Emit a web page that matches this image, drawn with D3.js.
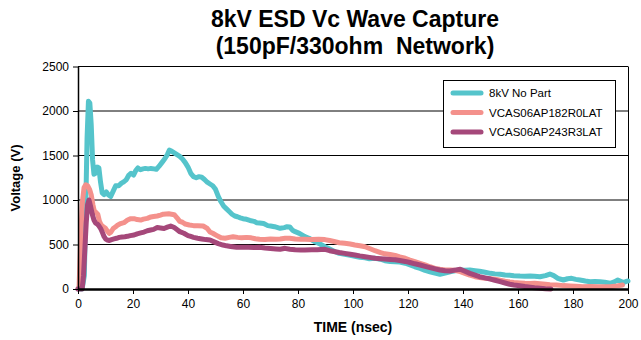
<!DOCTYPE html>
<html><head><meta charset="utf-8">
<script src="https://cdn.jsdelivr.net/npm/d3@7"></script>
<style>body{margin:0;background:#fff}svg{display:block}text{font-family:"Liberation Sans",Arial,sans-serif}</style>
</head><body><svg id="c" width="641" height="340"></svg>
<script>
const titleLines = ["8kV ESD Vc Wave Capture", "(150pF/330ohm  Network)"];
const xLabel = "TIME (nsec)";
const yLabel = "Voltage (V)";
const xTicks = [0,20,40,60,80,100,120,140,160,180,200];
const yTicks = [0,500,1000,1500,2000,2500];
const seriesNames = ["8kV No Part","VCAS06AP182R0LAT","VCAS06AP243R3LAT"];
const seriesColors = ["#55C4CB","#F4918C","#A5487A"];

const noPartT = [0,1.5,2.3,2.8,3.3,3.8,4.3,4.8,5.3,5.8,6.3,7,7.6,8.2,8.8,9.5,10.3,11,11.9,12.8,13.7,14.8,15.8,16.7,17.6,18.5,19.3,20.2,21,21.8,22.7,23.6,24.5,25.5,26.5,27.6,28.5,29.5,30.5,31.5,32.5,33.2,34,35,36,37,38,39,40,41,42,43,44,45,46,47,48,49,50,51,52,53,54,55,56,57,58,59,60,61.3,62.5,64,65,66,67.5,69,70,71.5,73.5,75,76,77,78,79,80.5,82.5,84,86.2,88,89.8,91.5,93.5,95,97,99,100.7,102.5,104.4,106,108,110,111.6,113.5,115.3,117,119,121,122.5,124.4,126.2,128,129.8,131.6,133.5,135.3,137,139,140.7,142.5,144.4,146,148,150,151.6,153.5,155.3,157,158.5,160.7,162.5,164.4,166,168,170,171.6,173,174.5,176.5,178,179.5,181,182.5,184.5,186.2,188,189.8,191.5,193.5,195,196.3,197.5,198.4,199.3,200];
const noPartV = [0,0,150,900,1700,2110,2090,1850,1450,1290,1300,1370,1360,1200,1080,1060,1090,1060,1040,1100,1160,1160,1190,1205,1230,1280,1300,1280,1330,1360,1340,1350,1355,1350,1355,1350,1345,1380,1420,1460,1510,1560,1550,1530,1510,1490,1460,1420,1370,1300,1262,1250,1262,1255,1230,1200,1180,1160,1120,1040,980,930,900,870,840,820,812,800,790,783,770,760,745,741,735,712,708,700,682,690,700,697,660,644,625,588,570,531,505,475,450,419,400,390,378,367,356,350,340,345,335,318,310,307,303,290,268,250,232,210,194,178,166,180,194,205,213,212,213,206,200,188,176,170,165,158,155,150,145,143,145,143,138,150,168,150,120,101,115,120,108,101,90,82,85,82,75,64,80,101,85,72,85,90];

const r0T = [0,0.4,0.9,1.5,2.2,2.8,3.5,4.2,4.8,5.4,5.9,6.5,7.2,7.8,8.4,9.2,10,10.7,11.3,12,12.8,13.7,14.5,15.5,16.7,18,19.2,20.4,21.5,22.8,23.8,25.2,26.5,27.5,28.8,30,31,32,33,34,35,36,37,38,39,40.5,42,43.5,45.5,47,48,49,50.5,52,53.5,55,56.4,58,59.5,61.3,63,64.5,66,68,70,72,73.5,75.3,77,79,81,82.5,85,87.5,89.8,91.5,93.5,95,97,99,100.7,102.5,104.4,106,108,110,111.6,113.5,115.3,117,119,120.7,122.5,124.4,126.2,128,129.8,131.6,133.5,135.3,137,139,140.7,142.5,144.4,146,148,150,151.6,153.5,155.3,157,158.5,160.7,162.5,164.4,166,168,170,171.6,174,176.5,179,181,183.5,186.2,189,191,193.5,196,198,200];
const r0V = [0,30,500,950,1140,1170,1160,1120,1060,950,880,860,840,760,720,700,682,650,626,640,680,700,720,735,745,775,790,790,780,775,785,794,810,815,820,830,840,843,845,840,835,800,760,750,730,719,712,710,708,680,640,626,600,575,570,580,588,580,575,580,575,565,558,555,562,560,562,570,570,562,558,558,555,560,555,545,531,520,513,505,494,485,475,455,430,410,395,388,378,360,345,325,307,288,270,250,232,222,213,213,210,195,176,155,138,128,120,115,110,98,88,80,74,68,64,62,64,58,53,48,45,38,34,30,26,28,26,25,26,35,45];

const r3T = [0,1.5,2,2.5,3,3.5,4,4.6,5.2,5.8,6.4,7,7.6,8.2,8.8,9.5,10.1,10.7,11.4,12.2,13.1,14,15,16,17,18,19,20.4,21.5,22.8,24,25.2,26.4,27.5,28.8,30,31.3,32.5,33.7,35,36.2,37,38.5,40,41,42,43.5,45,46.5,48,49.5,51,52.7,54,55.5,57.7,60,62,64,66,68,70,72,73.5,75.3,77,79,81,82.5,85,87,89.8,91.5,93.5,95,97,99,100.7,102.5,104.4,106,108,110,111.6,113.5,115.3,117,119,120.7,122.5,124.4,126.2,128,129.8,131.6,133.5,135.3,137,139,140.7,142.5,144.4,146,148,150,151.6,153.5,155.3,157,158.5,160.7,162.5,164.4,166,168,170,172];
const r3V = [0,0,150,450,750,950,1000,925,840,775,740,730,710,682,640,588,560,550,545,555,563,570,580,585,588,592,600,607,620,630,640,655,663,670,690,685,680,695,708,690,663,644,626,600,590,580,570,562,555,550,530,510,494,485,478,468,470,468,465,468,460,455,450,446,457,446,440,438,438,440,442,446,430,419,410,400,390,382,372,363,355,345,340,337,332,328,320,310,298,283,270,255,240,226,213,205,202,212,222,200,176,155,138,125,112,98,82,67,53,45,37,28,20,14,8,3,0];

const svg = d3.select("#c");
const M = {l:78, r:628, t:66.5, b:289};
const x = d3.scaleLinear().domain([0,200]).range([M.l, M.r]);
const y = d3.scaleLinear().domain([0,2500]).range([M.b, M.t]);

// title
svg.append("g").selectAll("text").data(titleLines).join("text")
  .attr("x", 355).attr("y", (d,i)=> 27 + i*27)
  .attr("text-anchor","middle").attr("font-weight","bold").attr("font-size",23)
  .style("white-space","pre")
  .text(d=>d);

// gridlines
svg.append("g").selectAll("line").data(yTicks.filter(v=>v>0)).join("line")
  .attr("x1", M.l).attr("x2", M.r).attr("y1", d=>y(d)).attr("y2", d=>y(d))
  .attr("stroke","#000").attr("stroke-width",1);
// right border
svg.append("line").attr("x1",M.r+0.5).attr("x2",M.r+0.5).attr("y1",y(2500)).attr("y2",y(0)).attr("stroke","#000").attr("stroke-width",1);

// lines
const data = [
  noPartT.map((t,i)=>[t,noPartV[i]]),
  r0T.map((t,i)=>[t,r0V[i]]),
  r3T.map((t,i)=>[t,r3V[i]])
];
const line = d3.line().x(d=>x(d[0])).y(d=>y(d[1]));
svg.append("g").selectAll("path").data(data).join("path")
  .attr("d", line).attr("fill","none")
  .attr("stroke",(d,i)=>seriesColors[i]).attr("stroke-width",5)
  .attr("stroke-linejoin","round").attr("stroke-linecap","round");

// axes
const xAxis = d3.axisBottom(x).tickValues(xTicks).tickFormat(d3.format("d")).tickSize(5).tickSizeOuter(0);
const gx = svg.append("g").attr("transform",`translate(0,${M.b})`).call(xAxis);
gx.select(".domain").attr("stroke-width",2.5);
gx.selectAll("text").attr("font-size",12).attr("font-family","Liberation Sans, Arial, sans-serif").attr("dy","0.95em");
const yAxis = d3.axisLeft(y).tickValues(yTicks).tickFormat(d3.format("d")).tickSize(5).tickSizeOuter(0);
const gy = svg.append("g").attr("transform",`translate(${M.l},0)`).call(yAxis);
gy.select(".domain").attr("stroke-width",1.5);
gy.selectAll("text").attr("font-size",12).attr("font-family","Liberation Sans, Arial, sans-serif").attr("x",-9);

// axis labels
svg.append("text").attr("x",353).attr("y",332).attr("text-anchor","middle")
  .attr("font-weight","bold").attr("font-size",14).text(xLabel);
svg.append("text").attr("transform","translate(20,178) rotate(-90)").attr("text-anchor","middle")
  .attr("font-weight","bold").attr("font-size",13).text(yLabel);

// legend
const lg = svg.append("g");
lg.append("rect").attr("x",443.5).attr("y",80.5).attr("width",172).attr("height",67)
  .attr("fill","#fff").attr("stroke","#000").attr("stroke-width",1);
const items = lg.selectAll("g").data(seriesNames).join("g")
  .attr("transform",(d,i)=>`translate(0,${93 + i*19.5})`);
items.append("line").attr("x1",453).attr("x2",481).attr("y1",0).attr("y2",0)
  .attr("stroke",(d,i)=>seriesColors[i]).attr("stroke-width",5).attr("stroke-linecap","round");
items.append("text").attr("x",489).attr("y",0).attr("dy","0.35em").attr("font-size",11.5).text(d=>d);
</script></body></html>
